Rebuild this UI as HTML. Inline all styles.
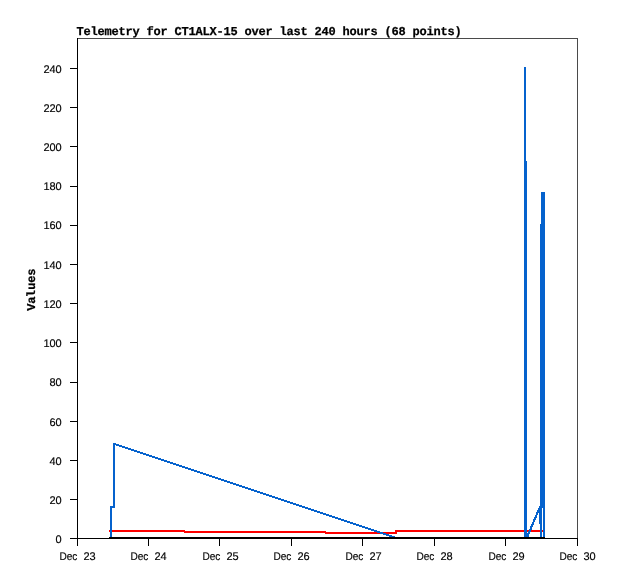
<!DOCTYPE html>
<html lang="en"><head><meta charset="utf-8"><title>Telemetry for CT1ALX-15</title>
<style>
html,body{margin:0;padding:0;background:#fff;}
body{width:618px;height:579px;overflow:hidden;}
svg{display:block;}
.t{font-family:"Liberation Mono","DejaVu Sans Mono",monospace;font-weight:bold;font-size:12px;fill:#000;stroke:#000;stroke-width:0.25px;}
.l{font-family:"Liberation Sans","DejaVu Sans",sans-serif;font-size:11px;fill:#000;stroke:#000;stroke-width:0.15px;}
</style></head><body>
<svg width="618" height="579" viewBox="0 0 618 579">
<rect x="0" y="0" width="618" height="579" fill="#fff"/>
<g shape-rendering="crispEdges">
<rect x="77" y="38" width="501" height="1" fill="#4a4a4a"/>
<rect x="577" y="38" width="1" height="501" fill="#4a4a4a"/>
<g fill="#ff0000">
<rect x="109" y="530" width="76" height="2"/>
<rect x="184" y="531" width="142" height="2"/>
<rect x="325" y="532" width="72" height="2"/>
<rect x="395" y="530" width="149" height="2"/>
<rect x="395" y="530" width="2" height="4"/>
</g>
<g fill="#0562cd" stroke="none">
<rect x="110" y="506" width="2" height="32"/>
<rect x="110" y="506" width="5" height="2"/>
<rect x="113" y="443" width="2" height="65"/>
<polygon points="114.5,443 397,537 397,539 114.5,445"/>
<rect x="524" y="67" width="2" height="471"/>
<rect x="526" y="161" width="1" height="377"/>
<polygon points="525.6,538 528.0,538 541,507 541,505.5 539.4,505.5"/>
<rect x="541" y="192" width="4" height="32"/>
<rect x="540" y="224" width="5" height="284"/>
<rect x="539" y="506" width="3" height="18"/>
<rect x="540" y="508" width="2" height="30"/>
<rect x="543" y="508" width="2" height="30"/>
</g>
<rect x="109" y="537" width="436" height="2" fill="#000"/>
<g fill="#000">
<rect x="77" y="38" width="1" height="501"/>
<rect x="77" y="538" width="501" height="1"/>
<rect x="70" y="538" width="8" height="1"/>
<rect x="70" y="499" width="8" height="1"/>
<rect x="70" y="460" width="8" height="1"/>
<rect x="70" y="421" width="8" height="1"/>
<rect x="70" y="382" width="8" height="1"/>
<rect x="70" y="342" width="8" height="1"/>
<rect x="70" y="303" width="8" height="1"/>
<rect x="70" y="264" width="8" height="1"/>
<rect x="70" y="225" width="8" height="1"/>
<rect x="70" y="186" width="8" height="1"/>
<rect x="70" y="146" width="8" height="1"/>
<rect x="70" y="107" width="8" height="1"/>
<rect x="70" y="68" width="8" height="1"/>
<rect x="77" y="538" width="1" height="8"/>
<rect x="148" y="538" width="1" height="8"/>
<rect x="219" y="538" width="1" height="8"/>
<rect x="291" y="538" width="1" height="8"/>
<rect x="362" y="538" width="1" height="8"/>
<rect x="434" y="538" width="1" height="8"/>
<rect x="505" y="538" width="1" height="8"/>
<rect x="577" y="538" width="1" height="8"/>
</g>
</g>
<g text-rendering="geometricPrecision">
<text class="t" x="76.6 83.6 90.6 97.6 104.6 111.6 118.6 125.6 132.6 139.6 146.6 153.6 160.6 167.6 174.6 181.6 188.6 195.6 202.6 209.6 216.6 223.6 230.6 237.6 244.6 251.6 258.6 265.6 272.6 279.6 286.6 293.6 300.6 307.6 314.6 321.6 328.6 335.6 342.6 349.6 356.6 363.6 370.6 377.6 384.6 391.6 398.6 405.6 412.6 419.6 426.6 433.6 440.6 447.6 454.6" y="35">Telemetry for CT1ALX-15 over last 240 hours (68 points)</text>
<text class="t" transform="translate(35,310.7) rotate(-90)" x="0 7 13.5 21 28 35" y="0">Values</text>
<text class="l" x="55.4" y="543">0</text>
<text class="l" x="49.4 55.4" y="504">20</text>
<text class="l" x="49.4 55.4" y="465">40</text>
<text class="l" x="49.4 55.4" y="426">60</text>
<text class="l" x="49.4 55.4" y="386">80</text>
<text class="l" x="43.4 49.4 55.4" y="347">100</text>
<text class="l" x="43.4 49.4 55.4" y="308">120</text>
<text class="l" x="43.4 49.4 55.4" y="269">140</text>
<text class="l" x="43.4 49.4 55.4" y="229">160</text>
<text class="l" x="43.4 49.4 55.4" y="190">180</text>
<text class="l" x="43.4 49.4 55.4" y="151">200</text>
<text class="l" x="43.4 49.4 55.4" y="112">220</text>
<text class="l" x="43.4 49.4 55.4" y="73">240</text>
<text class="l" y="560"><tspan x="59.4" textLength="18" lengthAdjust="spacingAndGlyphs">Dec</tspan><tspan x="80.4"> </tspan><tspan x="83.4 89.4">23</tspan></text>
<text class="l" y="560"><tspan x="130.4" textLength="18" lengthAdjust="spacingAndGlyphs">Dec</tspan><tspan x="151.4"> </tspan><tspan x="154.4 160.4">24</tspan></text>
<text class="l" y="560"><tspan x="202.4" textLength="18" lengthAdjust="spacingAndGlyphs">Dec</tspan><tspan x="223.4"> </tspan><tspan x="226.4 232.4">25</tspan></text>
<text class="l" y="560"><tspan x="273.4" textLength="18" lengthAdjust="spacingAndGlyphs">Dec</tspan><tspan x="294.4"> </tspan><tspan x="297.4 303.4">26</tspan></text>
<text class="l" y="560"><tspan x="345.4" textLength="18" lengthAdjust="spacingAndGlyphs">Dec</tspan><tspan x="366.4"> </tspan><tspan x="369.4 375.4">27</tspan></text>
<text class="l" y="560"><tspan x="416.4" textLength="18" lengthAdjust="spacingAndGlyphs">Dec</tspan><tspan x="437.4"> </tspan><tspan x="440.4 446.4">28</tspan></text>
<text class="l" y="560"><tspan x="488.4" textLength="18" lengthAdjust="spacingAndGlyphs">Dec</tspan><tspan x="509.4"> </tspan><tspan x="512.4 518.4">29</tspan></text>
<text class="l" y="560"><tspan x="559.4" textLength="18" lengthAdjust="spacingAndGlyphs">Dec</tspan><tspan x="580.4"> </tspan><tspan x="583.4 589.4">30</tspan></text>
</g>
</svg></body></html>
